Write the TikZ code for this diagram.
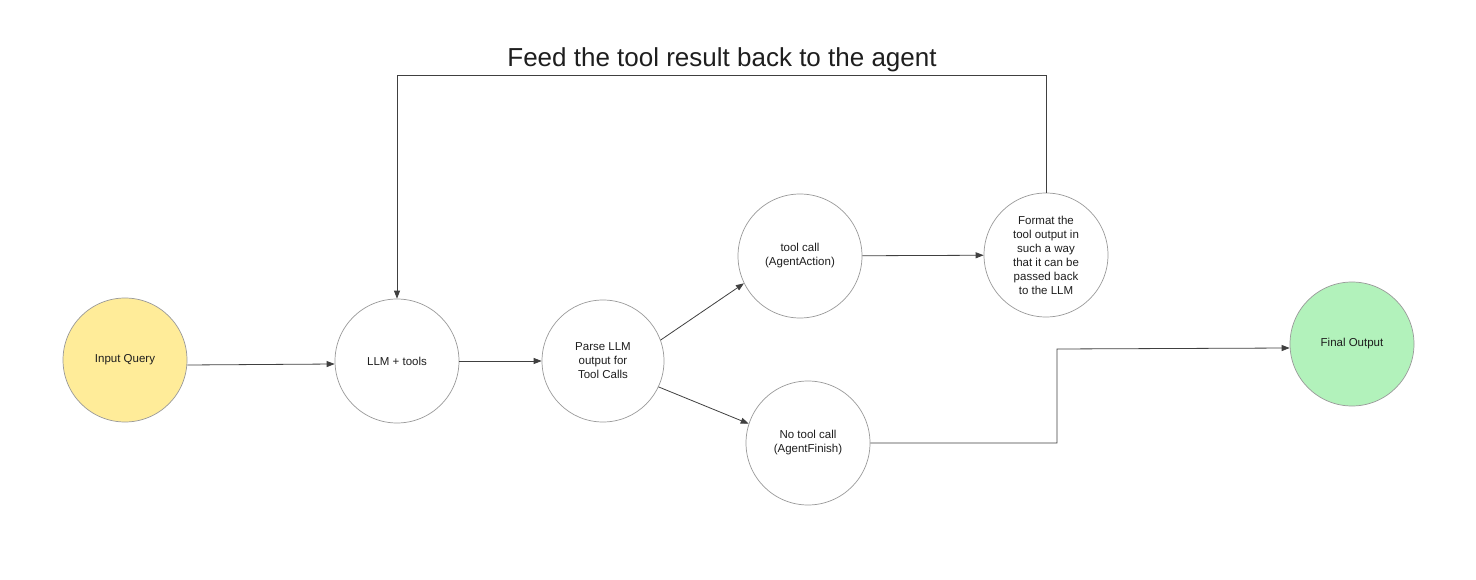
\documentclass[tikz,border=0pt]{standalone}
\usepackage{fontspec}
\setmainfont{Liberation Sans}
\usetikzlibrary{arrows.meta}
\definecolor{inkc}{HTML}{1E1E1E}
\definecolor{rimc}{HTML}{9A9A9A}
\definecolor{yelc}{HTML}{FFEC99}
\definecolor{grnc}{HTML}{B2F2BB}
\tikzset{
  bubble/.style={circle, draw=rimc, line width=0.7pt, minimum size=124pt, inner sep=0pt, align=center, text=inkc, font=\fontsize{11.5}{14}\selectfont},
  conn/.style={draw=inkc!85, line width=0.8pt, -{Triangle[length=8pt,width=6pt]}}
}
\begin{document}
\begin{tikzpicture}[x=1pt,y=-1pt]
\useasboundingbox (0,0) rectangle (1476,580);
\fill[white] (0,0) rectangle (1476,580);
\node[bubble, fill=yelc] (inq) at (125,360) {Input Query};
\node[bubble] (llm) at (397,361) {LLM + tools};
\node[bubble, minimum size=122pt] (parse) at (603,361) {Parse LLM\\output for\\Tool Calls};
\node[bubble] (call) at (800,256) {tool call\\(AgentAction)};
\node[bubble] (fmt) at (1046,255) {Format the\\tool output in\\such a way\\that it can be\\passed back\\to the LLM};
\node[bubble] (nocall) at (808,443) {No tool call\\(AgentFinish)};
\node[bubble, fill=grnc] (final) at (1352,344) {Final Output};
\node[text=inkc, font=\fontsize{26}{30}\selectfont] (title) at (722,60) {Feed the tool result back to the agent};
\coordinate (c1) at (1046,75);
\coordinate (c2) at (397,75);
\coordinate (m1) at (1057,443);
\coordinate (m2) at (1057,349);
\draw[conn] (inq.east |- 0,365) -- (llm.west |- 0,364);
\draw[conn] (llm) -- (parse);
\draw[conn] (parse.20) -- (call.206);
\draw[conn] (parse.-25) -- (nocall.162);
\draw[conn] (call) -- (fmt);
\draw[conn] (fmt.north) -- (c1) -- (c2) -- (llm.north);
\draw[conn] (nocall.east |- m1) -- (m1) -- (m2) -- (final.west |- 0,348);
\end{tikzpicture}
\end{document}
